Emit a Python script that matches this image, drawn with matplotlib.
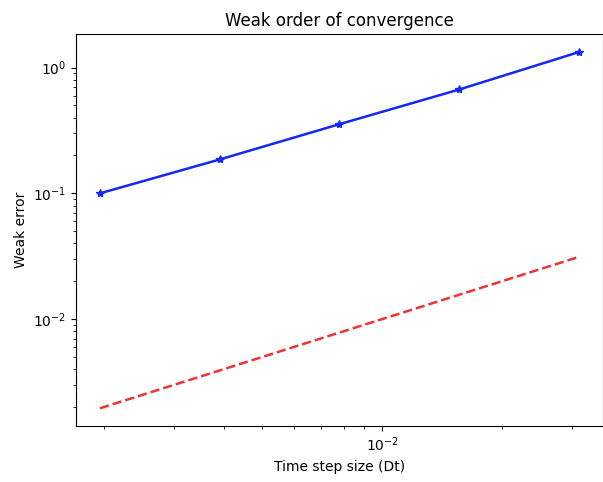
import numpy as np
import matplotlib
matplotlib.use("Agg")
import matplotlib.pyplot as plt

# time step sizes and measured weak errors
dts = [1/512, 1/256, 1/128, 1/64, 1/32]
weak_err = [0.100, 0.186, 0.355, 0.67, 1.33]
# order-1 reference line
ref = dts

fig = plt.figure(figsize=(6.03, 4.82), dpi=100)
ax = fig.add_axes([0.126, 0.116, 0.874, 0.813])
ax.loglog(dts, weak_err, '*-', color='#1428f5', lw=1.8)
ax.loglog(dts, ref, '--', color='#ee3333', lw=1.8)
ax.set_title("Weak order of convergence")
ax.set_xlabel("Time step size (Dt)")
ax.set_ylabel("Weak error")
fig.savefig("out.png", dpi=100)
